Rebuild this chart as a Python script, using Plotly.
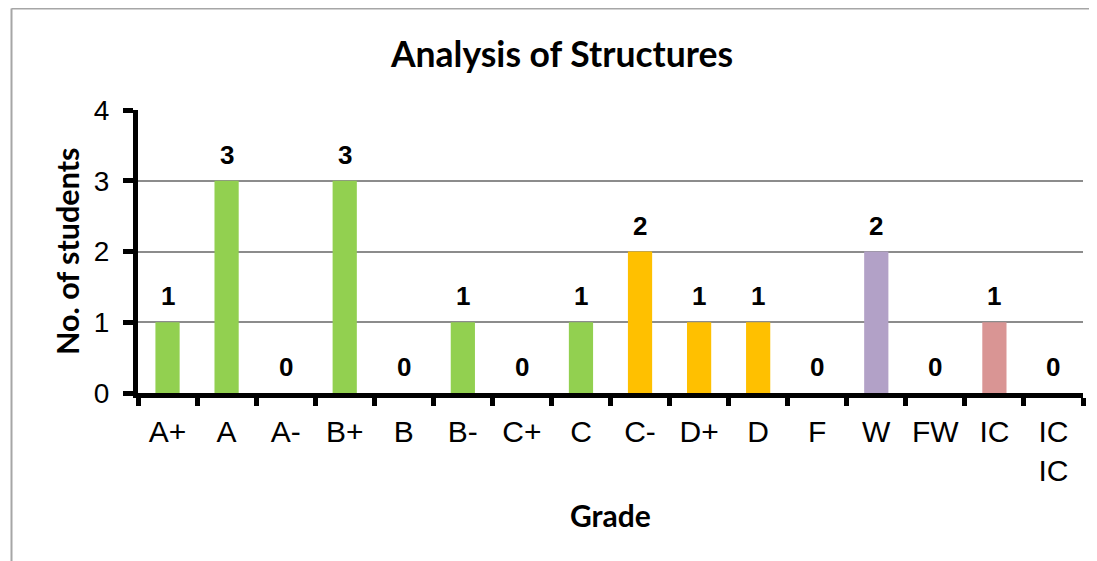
import plotly.graph_objects as go

# ---- data ----
grades = ["A+", "A", "A-", "B+", "B", "B-", "C+", "C", "C-", "D+", "D", "F", "W", "FW", "IC", "IC<br>IC"]
students = [1, 3, 0, 3, 0, 1, 0, 1, 2, 1, 1, 0, 2, 0, 1, 0]

chart_title = "Analysis of Structures"
x_title = "Grade"
y_title = "No. of students"
y_ticks = [0, 1, 2, 3, 4]

# ---- styles ----
GREEN, ORANGE, PURPLE, PINK = "#92D050", "#FFC000", "#B2A1C7", "#D99594"
bar_colors = [GREEN] * 8 + [ORANGE] * 3 + [GREEN] + [PURPLE] + [GREEN] + [PINK] + [GREEN]

# page body has an 8px margin, so the figure is offset by 8px
OFF = 8
W, H = 1097 - OFF, 561 - OFF
L = 138 - OFF
T = 110 - OFF
R = W - (1083 - OFF)
B = H - (393 - OFF)
pw, ph = W - L - R, H - T - B


def px_x(x):
    return (x - OFF - L) / pw


def px_y(y):
    return (T + ph - (y - OFF)) / ph


fig = go.Figure()
fig.add_trace(go.Bar(
    x=grades, y=students,
    marker=dict(color=bar_colors, line=dict(width=0)),
    width=0.41,
    hoverinfo="x+y",
))

annotations = []
for g, v in zip(grades, students):
    annotations.append(dict(
        x=g, y=v, xref="x", yref="y", text=str(v), showarrow=False,
        yanchor="bottom", yshift=9,
        font=dict(family="Liberation Sans, Arial", size=26, color="black", weight="bold"),
    ))

annotations.append(dict(
    x=px_x(67), y=px_y(252), xref="paper", yref="paper", text=y_title, showarrow=False,
    textangle=-90, xanchor="center", yanchor="middle",
    font=dict(family="Lato, Carlito, Calibri", size=30.5, color="black", weight="bold"),
))
annotations.append(dict(
    x=0.5, y=px_y(515), xref="paper", yref="paper", text=x_title, showarrow=False,
    xanchor="center", yanchor="middle",
    font=dict(family="Lato, Carlito, Calibri", size=30, color="black", weight="bold"),
))

shapes = [
    dict(type="line", xref="paper", yref="paper",
         x0=px_x(11.5), x1=px_x(11.5), y0=px_y(620), y1=px_y(8.5),
         line=dict(color="#A6A6A6", width=2)),
    dict(type="line", xref="paper", yref="paper",
         x0=px_x(11.5), x1=1.2, y0=px_y(8.5), y1=px_y(8.5),
         line=dict(color="#A6A6A6", width=2)),
]

fig.update_layout(
    width=W, height=H,
    margin=dict(l=L, r=R, t=T, b=B, pad=0),
    paper_bgcolor="white", plot_bgcolor="white",
    showlegend=False,
    title=dict(text=chart_title, x=(562 - OFF) / W, xref="container", xanchor="center",
               y=1 - (55 - OFF) / H, yref="container", yanchor="middle",
               font=dict(family="Lato, Carlito, Calibri", size=35.5, color="black", weight="bold")),
    annotations=annotations,
    shapes=shapes,
)

fig.update_xaxes(
    type="category", showline=True, linecolor="black", linewidth=5,
    ticks="outside", tickson="boundaries", ticklen=8, tickwidth=5, tickcolor="black",
    tickfont=dict(family="Liberation Sans, Arial", size=30, color="black"),
    tickangle=0, ticklabelstandoff=8, showgrid=False, zeroline=False,
)
fig.update_yaxes(
    range=[0, 4], tickvals=y_ticks, showline=True, linecolor="black", linewidth=5,
    ticks="outside", ticklen=10, tickwidth=5, tickcolor="black",
    tickfont=dict(family="Liberation Sans, Arial", size=28, color="black"),
    ticklabelstandoff=8,
    showgrid=True, gridcolor="#8C8C8C", gridwidth=1.5, zeroline=False,
)

fig.write_html("out.html")
